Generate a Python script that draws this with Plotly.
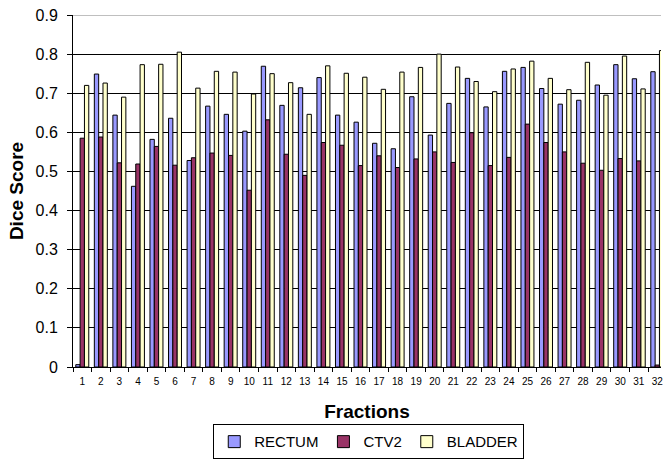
import plotly.graph_objects as go

fractions = [str(i) for i in range(1, 33)]
rectum = [0.006, 0.749, 0.644, 0.462, 0.582, 0.636, 0.528, 0.667, 0.646, 0.603,
          0.769, 0.669, 0.714, 0.740, 0.644, 0.626, 0.572, 0.558, 0.691, 0.593,
          0.674, 0.738, 0.665, 0.756, 0.766, 0.712, 0.672, 0.682, 0.721, 0.773,
          0.737, 0.755]
ctv2 = [0.585, 0.588, 0.522, 0.519, 0.564, 0.516, 0.535, 0.547, 0.541, 0.452,
        0.632, 0.544, 0.490, 0.574, 0.567, 0.515, 0.540, 0.510, 0.532, 0.550,
        0.523, 0.599, 0.515, 0.536, 0.621, 0.574, 0.550, 0.521, 0.503, 0.533,
        0.527, 0.005]
bladder = [0.720, 0.726, 0.690, 0.773, 0.774, 0.805, 0.713, 0.756, 0.754, 0.698,
           0.750, 0.727, 0.646, 0.770, 0.751, 0.741, 0.710, 0.754, 0.766, 0.800,
           0.767, 0.730, 0.704, 0.762, 0.782, 0.738, 0.709, 0.779, 0.695, 0.795,
           0.711, 0.809]
y_ticks = [0, 0.1, 0.2, 0.3, 0.4, 0.5, 0.6, 0.7, 0.8, 0.9]
y_labels = ["0", "0.1", "0.2", "0.3", "0.4", "0.5", "0.6", "0.7", "0.8", "0.9"]

FONT = "Arial, 'Liberation Sans', sans-serif"
fig = go.Figure()
for name, vals, col in [("RECTUM", rectum, "#9999FF"),
                        ("CTV2", ctv2, "#993366"),
                        ("BLADDER", bladder, "#FFFFCC")]:
    fig.add_trace(go.Bar(x=fractions, y=vals, name=name,
                         marker=dict(color=col, line=dict(color="black", width=1))))

fig.update_layout(
    width=663, height=460, autosize=False,
    margin=dict(l=73, r=0, t=15, b=93),
    paper_bgcolor="white", plot_bgcolor="white",
    barmode="group", bargap=0.3, bargroupgap=0,
    font=dict(family=FONT, color="black"),
    legend=dict(orientation="h", x=0.503, xanchor="center", y=-0.163, yanchor="top",
                bordercolor="black", borderwidth=1, font=dict(size=15, family=FONT),
                itemwidth=30, traceorder="normal", tracegroupgap=0),
    shapes=[dict(type="line", xref="paper", yref="y", x0=0, x1=1, y0=0.9, y1=0.9,
                 line=dict(color="#808080", width=1))],
)
fig.update_xaxes(type="category", range=[-0.5, 31.2], showline=True, linecolor="black",
                 linewidth=1, ticks="outside", ticklen=4, tickcolor="black",
                 tickson="boundaries", showgrid=False, tickangle=0,
                 ticklabelstandoff=5, tickfont=dict(size=10, family=FONT),
                 title=dict(text="<b>Fractions</b>", font=dict(size=19, family=FONT), standoff=18))
fig.update_yaxes(range=[0, 0.9], tickvals=y_ticks, ticktext=y_labels, showline=True,
                 linecolor="black", linewidth=1, ticks="outside", ticklen=5,
                 tickcolor="black", showgrid=True, gridcolor="black", gridwidth=1,
                 zeroline=False, ticklabelstandoff=6, tickfont=dict(size=16, family=FONT),
                 title=dict(text="<b>Dice Score</b>", font=dict(size=19, family=FONT), standoff=6))

fig.write_html("out.html")
